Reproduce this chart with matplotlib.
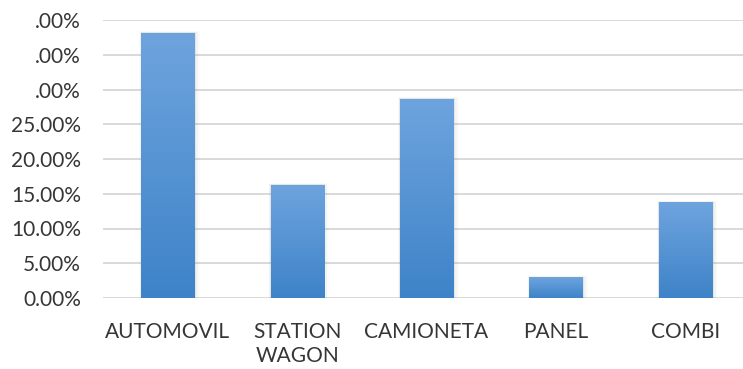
import numpy as np
import matplotlib.pyplot as plt
from matplotlib.colors import LinearSegmentedColormap
from matplotlib.patches import Rectangle

plt.rcParams['font.family'] = ['Lato', 'DejaVu Sans']

categories = ['AUTOMOVIL', 'STATION\nWAGON', 'CAMIONETA', 'PANEL', 'COMBI']
shares = [38.2, 16.3, 28.7, 3.0, 13.8]
tick_values = [0, 5, 10, 15, 20, 25, 30, 35, 40]
tick_labels = ['0.00%', '5.00%', '10.00%', '15.00%', '20.00%', '25.00%',
               '.00%', '.00%', '.00%']

fig = plt.figure(figsize=(7.43, 3.69), dpi=100, facecolor='white')
ax = fig.add_axes([103 / 743, 1 - 298 / 369, 1 - 103 / 743, (298 - 20) / 369])

for s in ax.spines.values():
    s.set_visible(False)
ax.set_yticks(tick_values)
ax.set_yticklabels(tick_labels)
ax.set_xticks(range(len(categories)))
ax.set_xticklabels(categories, linespacing=1.25)
ax.tick_params(axis='both', length=0, labelsize=15, colors='#363636')
ax.tick_params(axis='y', pad=16)
ax.tick_params(axis='x', pad=17)
for v in tick_values:
    ax.axhline(v, color='#d9d9d9', lw=1.4, zorder=0)

# vertical gradient fill for the bars, lighter at the top
grad = LinearSegmentedColormap.from_list('bar', ['#3e83c8', '#6ea4de'])
ramp = np.linspace(0, 1, 256).reshape(-1, 1)
width = 0.41
for i, v in enumerate(shares):
    x0 = i - width / 2
    # soft shadow behind each bar
    for k, a in enumerate([0.09, 0.05, 0.025]):
        d = 0.012 * (k + 1)
        sh = Rectangle((x0 - d * 0.4, 0), width + d * 1.6, v + d * 6,
                       facecolor='#666666', alpha=a, edgecolor='none', zorder=1)
        ax.add_patch(sh)
    rect = Rectangle((x0, 0), width, v, facecolor='none', edgecolor='none', zorder=2)
    ax.add_patch(rect)
    im = ax.imshow(ramp, cmap=grad, origin='lower', aspect='auto',
                   extent=[x0, x0 + width, 0, v], zorder=2)
    im.set_clip_path(rect)

ax.set_xlim(-0.5, 4.5 - 7 / 129.5)
ax.set_ylim(0, 40)

fig.savefig('out.png', dpi=100)
